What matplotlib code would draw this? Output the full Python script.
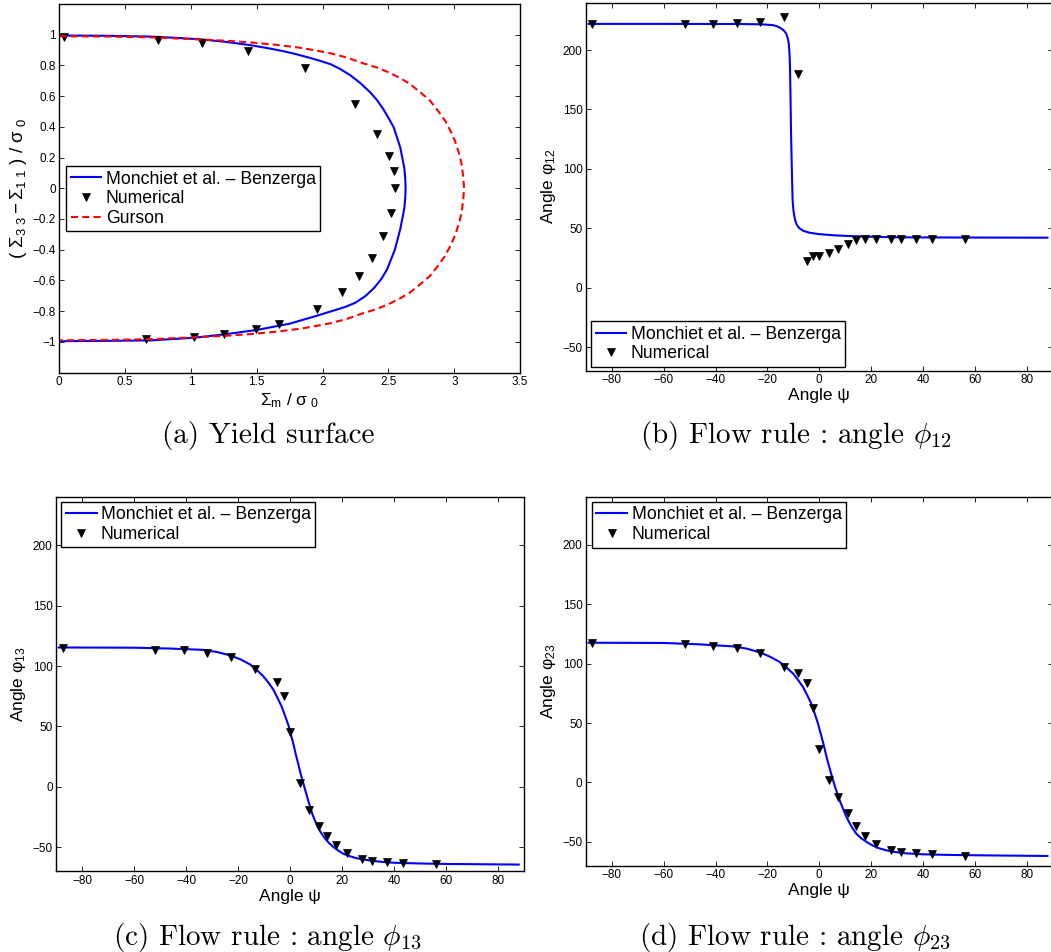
"""Yield surface and flow-rule angles: Monchiet et al. - Benzerga vs numerical vs Gurson."""
import matplotlib
matplotlib.use("Agg")
import matplotlib.pyplot as plt
from matplotlib.ticker import FuncFormatter, MultipleLocator

# ---- (a) yield surface -------------------------------------------------
mb_x = [0.00, 0.35, 0.69, 0.88, 1.07, 1.25, 1.45, 1.58, 1.70, 1.80, 1.90, 1.98, 2.06, 2.135, 2.21,
        2.285, 2.36, 2.415, 2.46, 2.50, 2.54, 2.565, 2.59, 2.605, 2.62, 2.627, 2.63,
        2.627, 2.62, 2.605, 2.59, 2.57, 2.55, 2.52, 2.49, 2.445, 2.39, 2.325, 2.25, 2.175, 2.10,
        1.95, 1.75, 1.50, 1.25, 1.02, 0.69, 0.35, 0.00]
mb_y = [0.995, 0.993, 0.988, 0.980, 0.970, 0.955, 0.932, 0.913, 0.893, 0.873, 0.850, 0.830, 0.808,
        0.776, 0.736, 0.686, 0.626, 0.572, 0.516, 0.458, 0.396, 0.330, 0.264, 0.198, 0.132, 0.066, 0.0,
        -0.066, -0.132, -0.198, -0.264, -0.330, -0.396, -0.462, -0.527, -0.592, -0.650, -0.702,
        -0.745, -0.772, -0.792, -0.832, -0.882, -0.923, -0.952, -0.974, -0.991, -0.994, -0.996]
gurson_x = [0.00, 0.35, 0.69, 1.07, 1.26, 1.45, 1.65, 1.83, 1.95, 2.06, 2.185, 2.31, 2.41, 2.50, 2.585,
            2.66, 2.74, 2.815, 2.875, 2.93, 2.97, 3.005, 3.035, 3.056, 3.067, 3.074,
            3.067, 3.056, 3.035, 3.005, 2.97, 2.93, 2.875, 2.815, 2.74, 2.66, 2.585, 2.50, 2.41,
            2.31, 2.185, 2.06, 1.95, 1.83, 1.65, 1.45, 1.26, 1.07, 0.69, 0.35, 0.00]
gurson_y = [0.990, 0.988, 0.983, 0.969, 0.961, 0.950, 0.934, 0.915, 0.897, 0.879, 0.851, 0.813, 0.787,
            0.755, 0.719, 0.681, 0.626, 0.571, 0.506, 0.440, 0.375, 0.308, 0.229, 0.154, 0.077, 0.0,
            -0.077, -0.154, -0.229, -0.308, -0.375, -0.440, -0.506, -0.571, -0.626, -0.681, -0.719,
            -0.755, -0.787, -0.813, -0.851, -0.879, -0.897, -0.915, -0.934, -0.950, -0.961, -0.969,
            -0.983, -0.988, -0.990]
num_a_x = [0.033, 0.753, 1.086, 1.437, 1.866, 2.246, 2.413, 2.504, 2.540, 2.552, 2.517, 2.456, 2.373,
           2.276, 2.150, 1.960, 1.667, 1.492, 1.250, 1.023, 0.658]
num_a_y = [0.987, 0.965, 0.943, 0.895, 0.785, 0.549, 0.352, 0.213, 0.114, 0.000, -0.163, -0.314, -0.455,
           -0.571, -0.677, -0.789, -0.886, -0.919, -0.952, -0.967, -0.982]

# ---- numerical psi angles ----------------------------------------------
psi_num = [-87.5, -52.0, -40.9, -31.8, -22.8, -13.6, -8.2, -4.9, -2.4, 0.0, 3.8, 7.4, 11.0, 14.2,
           17.6, 21.8, 27.8, 31.6, 37.4, 43.4, 56.2]
psi_num_c = [-87.5, -52.0, -40.9, -31.8, -22.8, -13.6, -4.9, -2.4, 0.0, 3.8, 7.4, 11.0, 14.2,
             17.6, 21.8, 27.8, 31.6, 37.4, 43.4, 56.2]

# ---- (b) phi12 ---------------------------------------------------------
psi_b = [-89, -60, -30.8, -22.0, -18.0, -16.3, -14.7, -13.6, -12.8, -12.2, -11.8, -11.5, -11.3, -11.1,
         -10.9, -10.6, -10.3, -10.0, -9.6, -9.2, -8.6, -7.7, -6.2, -3.8, -0.5, 2.6, 6.5, 11.5, 20.0,
         30.8, 60, 88]
phi12 = [222.0, 222.0, 221.9, 221.6, 221.0, 220.0, 218.2, 216.2, 214.0, 210.2, 205.6, 197.5, 186.0,
         160.0, 129.9, 100.0, 73.8, 65.5, 59.7, 56.0, 52.6, 50.0, 47.9, 46.3, 45.2, 44.6, 44.0, 43.5,
         42.9, 42.4, 42.2, 42.1]
phi12_num = [221.6, 221.6, 221.9, 222.4, 223.6, 227.8, 179.8, 22.7, 26.4, 26.9, 28.9, 32.3, 37.0, 40.1,
             41.3, 41.2, 41.2, 41.2, 41.2, 41.2, 41.2]

# ---- (c) phi13 ---------------------------------------------------------
psi_c = [-89, -60, -46.2, -33.3, -28.0, -23.1, -19.0, -15.4, -12.8, -10.3, -8.3, -6.4, -4.8, -3.2,
         -1.9, -0.6, 0.35, 1.3, 2.2, 3.2, 4.0, 4.9, 5.8, 6.7, 7.7, 8.7, 9.8, 10.9, 12.2, 13.5, 15.0,
         16.7, 18.5, 20.5, 23.0, 25.6, 28.0, 30.8, 35.0, 40, 50, 60, 88]
phi13 = [115.4, 115.2, 114.5, 113.4, 111.6, 108.9, 105.5, 101.4, 96.8, 91.6, 86.3, 80.4, 73.6, 66.4,
         58.8, 50.9, 43.2, 35.5, 27.0, 18.7, 11.5, 4.7, -2.3, -9.2, -16.4, -23.3, -29.0, -34.5, -39.0,
         -42.9, -46.6, -49.9, -52.8, -55.5, -57.6, -59.2, -60.2, -61.1, -62.2, -63.0, -63.6, -64.0, -64.5]
phi13_num = [114.8, 113.7, 112.9, 111.2, 107.6, 97.2, 86.8, 75.5, 45.7, 2.8, -19.6, -32.3, -41.2, -48.2,
             -55.0, -60.2, -61.6, -62.7, -63.6, -64.4]

# ---- (d) phi23 ---------------------------------------------------------
psi_d = [-89, -60, -46, -33.2, -28.0, -22.9, -19.0, -15.3, -12.7, -10.1, -8.2, -6.3, -4.7, -3.1,
         -1.8, -0.5, 0.45, 1.4, 2.35, 3.3, 4.3, 5.3, 6.2, 7.2, 8.1, 9.1, 10.2, 11.4, 12.8, 14.2, 16.0,
         18.1, 20.5, 23.2, 25.8, 28.3, 33.0, 40, 50, 60, 88]
phi23 = [117.6, 117.4, 116.2, 114.5, 112.6, 109.5, 105.8, 101.4, 96.8, 91.6, 86.3, 80.4, 73.6, 66.4,
         58.2, 49.6, 41.8, 34.1, 25.6, 17.3, 9.4, 1.9, -4.6, -10.7, -16.5, -21.8, -27.7, -33.1, -38.4,
         -42.9, -46.7, -49.9, -53.0, -55.5, -57.1, -58.3, -59.6, -60.5, -61.0, -61.3, -61.9]
phi23_num = [117.4, 116.2, 115.1, 113.2, 108.6, 97.2, 92.4, 84.0, 63.0, 28.5, 2.0, -12.6, -25.6, -36.4,
             -44.8, -51.4, -56.5, -58.3, -59.7, -60.5, -61.6]

MB_LABEL = "Monchiet et al. \u2013 Benzerga"
W, H = 1051, 952

plt.rcParams["font.family"] = ["Liberation Sans", "DejaVu Sans"]
plt.rcParams["mathtext.fontset"] = "custom"
plt.rcParams["mathtext.rm"] = "Liberation Sans"
plt.rcParams["mathtext.it"] = "Liberation Sans:italic"
plt.rcParams["mathtext.bf"] = "Liberation Sans:bold"
plt.rcParams["mathtext.sf"] = "Liberation Sans"


def make_axes(fig, box):
    left, top, right, bottom = box
    ax = fig.add_axes([left / W, 1 - bottom / H, (right - left) / W, (bottom - top) / H])
    ax.tick_params(direction="in", top=True, right=True, length=3.5, width=0.6,
                   labelsize=8.5, pad=2.5)
    for s in ax.spines.values():
        s.set_linewidth(1.0)
    fmt = FuncFormatter(lambda v, _: f"{v:g}".replace("-", "\u2212"))
    ax.xaxis.set_major_formatter(fmt)
    ax.yaxis.set_major_formatter(fmt)
    return ax


def labels(ax, box, xlabel, ylabel, xlab_y, ylab_x, ysize=12.5):
    left, top, right, bottom = box
    ax.set_xlabel(xlabel, fontsize=12.5)
    ax.set_ylabel(ylabel, fontsize=ysize)
    ax.xaxis.set_label_coords(0.5, 1 - (xlab_y - top) / (bottom - top))
    ax.yaxis.set_label_coords((ylab_x - left) / (right - left), 0.5)
    ax.xaxis.label.set_va("center")
    ax.yaxis.label.set_va("center")


def legend(ax, loc, anchor):
    leg = ax.legend(loc=loc, bbox_to_anchor=anchor, borderaxespad=0, fontsize=12.7,
                    fancybox=False, framealpha=1, edgecolor="black", handlelength=1.75,
                    handletextpad=0.25, borderpad=0.25, labelspacing=0.15, numpoints=1)
    leg.get_frame().set_linewidth(1.0)


def angle_panel(ax, psi, phi, psi_n, phi_n):
    ax.plot(psi, phi, color="#0000ff", lw=1.5, label=MB_LABEL)
    ax.plot(psi_n, phi_n, "v", color="black", ms=5.5, mew=0.5, label="Numerical")
    ax.set_xlim(-90, 90)
    ax.set_ylim(-70, 240)
    ax.xaxis.set_major_locator(MultipleLocator(20))
    ax.yaxis.set_major_locator(MultipleLocator(50))


fig = plt.figure(figsize=(W / 100, H / 100), dpi=100)

# (a)
box_a = (59.2, 4.0, 520.2, 372.5)
ax = make_axes(fig, box_a)
ax.plot(mb_x, mb_y, color="#0000ff", lw=1.5, label=MB_LABEL)
ax.plot(num_a_x, num_a_y, "v", color="black", ms=5.5, mew=0.5, label="Numerical")
ax.plot(gurson_x, gurson_y, color="#ff0000", lw=1.5, dashes=(3.4, 2.0), label="Gurson")
ax.set_xlim(0, 3.5)
ax.set_ylim(-1.2, 1.2)
ax.xaxis.set_major_locator(MultipleLocator(0.5))
ax.set_yticks([-1, -0.8, -0.6, -0.4, -0.2, 0, 0.2, 0.4, 0.6, 0.8, 1])
labels(ax, box_a, r"$\Sigma_{\mathrm{m}}\ /\ \mathrm{\sigma}_{\ 0}$",
       r"$(\ \Sigma_{3\ 3}-\Sigma_{1\ 1}\ )\ /\ \mathrm{\sigma}_{\ 0}$", 400.5, 18.6, ysize=13.5)
legend(ax, "upper left", (0.015, 0.56))

# (b)
box_b = (586.0, 2.5, 1052.6, 370.9)
ax = make_axes(fig, box_b)
angle_panel(ax, psi_b, phi12, psi_num, phi12_num)
labels(ax, box_b, "Angle \u03c8", r"Angle $\mathrm{\varphi}_{12}$", 395.7, 548.3)
legend(ax, "lower left", (0.011, 0.011))

# (c)
box_c = (56.1, 497.1, 523.9, 871.2)
ax = make_axes(fig, box_c)
angle_panel(ax, psi_c, phi13, psi_num_c, phi13_num)
labels(ax, box_c, "Angle \u03c8", r"Angle $\mathrm{\varphi}_{13}$", 896.6, 18.6)
legend(ax, "upper left", (0.011, 0.987))

# (d)
box_d = (586.0, 497.3, 1052.6, 865.6)
ax = make_axes(fig, box_d)
angle_panel(ax, psi_d, phi23, psi_num, phi23_num)
labels(ax, box_d, "Angle \u03c8", r"Angle $\mathrm{\varphi}_{23}$", 890.7, 548.3)
legend(ax, "upper left", (0.013, 0.987))

# sub-figure captions
captions = [(268, 443, "(a) Yield surface"),
            (795.5, 443, r"(b) Flow rule : angle $\phi_{12}$"),
            (267, 945, r"(c) Flow rule : angle $\phi_{13}$"),
            (795.3, 945, r"(d) Flow rule : angle $\phi_{23}$")]
for x, y, txt in captions:
    fig.text(x / W, 1 - y / H, txt, ha="center", va="baseline", fontsize=21,
             family="cmr10", math_fontfamily="cm")

fig.savefig("out.png", dpi=100)
